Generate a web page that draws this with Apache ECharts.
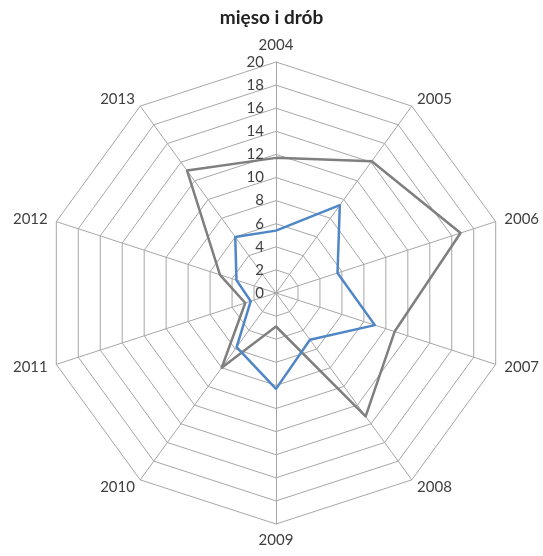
<!DOCTYPE html>
<html>
<head>
<meta charset="utf-8">
<script src="https://cdn.jsdelivr.net/npm/echarts@6/dist/echarts.min.js"></script>
<style>
  html, body { margin: 0; padding: 0; background: #fff; }
  #chart { width: 543px; height: 556px; }
</style>
</head>
<body>
<div id="chart"></div>
<script>
const years = ['2004', '2005', '2006', '2007', '2008', '2009', '2010', '2011', '2012', '2013'];
const grayValues = [11.7, 14.1, 16.8, 10.8, 13.2, 2.9, 8.0, 2.8, 5.1, 13.1];
const blueValues = [5.4, 9.4, 5.6, 9.0, 5.0, 8.3, 5.8, 2.3, 3.6, 6.0];
const axisMax = 20;

const chart = echarts.init(document.getElementById('chart'), null, { renderer: 'canvas' });

// radar goes counter-clockwise, so keep the first year on top and reverse the rest
const order = [0].concat(years.map((_, i) => i).slice(1).reverse());
const pick = (arr) => order.map((i) => arr[i]);

const indicator = order.map((i) => {
  const item = { name: years[i], max: axisMax, min: 0 };
  if (i === 0) {
    item.axisLabel = { show: true };  // only the first spoke carries the scale labels
  }
  return item;
});

chart.setOption({
  animation: false,
  title: {
    text: 'mięso i drób',
    left: 'center',
    top: 3,
    textStyle: {
      fontFamily: 'Lato',
      fontWeight: 'bold',
      fontSize: 19,
      color: '#222'
    }
  },
  radar: {
    center: [276, 293],
    radius: 231,
    startAngle: 90,
    shape: 'polygon',
    splitNumber: 10,
    nameGap: 9,
    axisName: {
      color: '#404040',
      fontFamily: 'Lato',
      fontSize: 15
    },
    axisLine: { lineStyle: { color: '#a6a6a6', width: 1 } },
    splitLine: { lineStyle: { color: '#a6a6a6', width: 1 } },
    splitArea: { show: false },
    axisTick: { show: false },
    axisLabel: {
      show: false,
      color: '#404040',
      fontFamily: 'Lato',
      fontSize: 15,
      margin: 12
    },
    indicator
  },
  series: [{
    type: 'radar',
    symbol: 'none',
    data: [
      { value: pick(grayValues), name: 'a', lineStyle: { color: '#7f7f7f', width: 2.5 } },
      { value: pick(blueValues), name: 'b', lineStyle: { color: '#4f86c6', width: 2.5 } }
    ]
  }]
});
</script>
</body>
</html>
